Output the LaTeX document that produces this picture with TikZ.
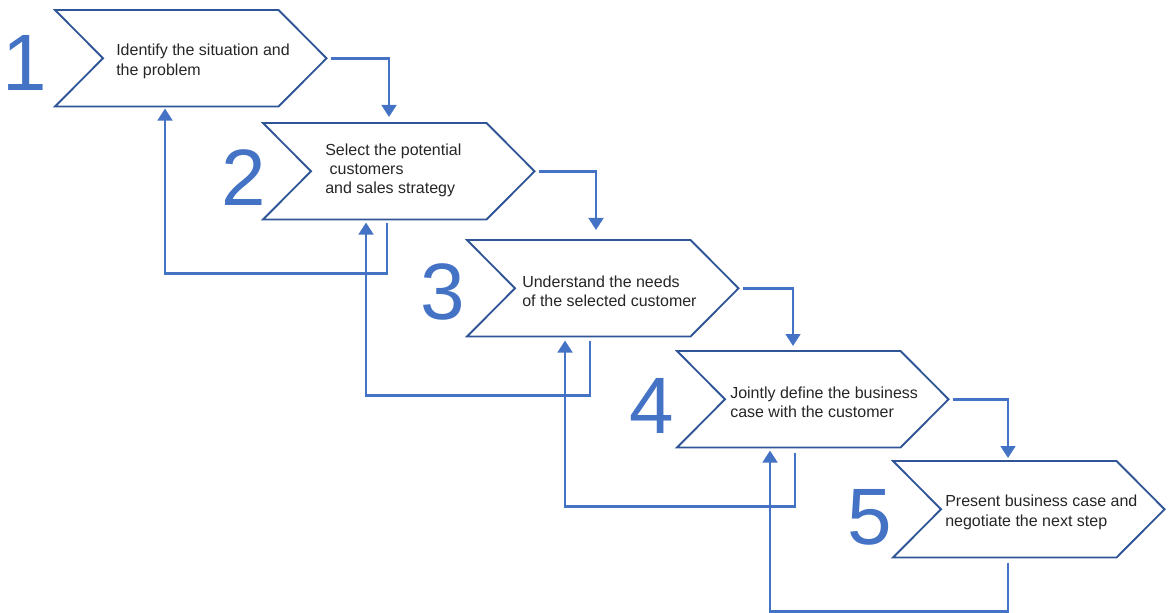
\documentclass[tikz,border=0pt]{standalone}
\usepackage{fontspec}
\setmainfont{Liberation Sans}
\usetikzlibrary{arrows.meta,calc}
\definecolor{chevblue}{RGB}{47,85,151}
\definecolor{linkblue}{RGB}{68,114,196}
\newcommand{\chevron}[1]{%
  \draw[chev] (#1.north west) -- ($(#1.north east)+(-48,0)$) -- (#1.east)
    -- ($(#1.south east)+(-48,0)$) -- (#1.south west) -- ($(#1.west)+(48,0)$) -- cycle;
}

\begin{document}
\begin{tikzpicture}[x=0.75pt, y=-0.75pt, >={Triangle[width=11pt,length=9pt]}]
\tikzset{stepbox/.style={anchor=north west, minimum width=203.25pt, minimum height=72pt, inner sep=0pt},
  chev/.style={draw=chevblue, line width=1.4pt, fill=white, line join=miter},
  steptext/.style={anchor=west, align=left, inner sep=0pt, text=black!85, font=\fontsize{12}{14.5}\selectfont},
  stepnum/.style={text=linkblue, inner sep=0pt, font=\fontsize{60}{60}\selectfont},
  fwd/.style={->, draw=linkblue, line width=2pt},
  back/.style={->, draw=linkblue, line width=2pt}}

\useasboundingbox (0,0) rectangle (1168,613);

% step boxes (pixel grid, y down)
\node[stepbox] (s1) at (55,10) {};
\node[stepbox] (s2) at (263,123) {};
\node[stepbox] (s3) at (467,240) {};
\node[stepbox] (s4) at (677,351) {};
\node[stepbox] (s5) at (893,461) {};

\foreach \i in {1,...,5}{
  \chevron{s\i}
}

% texts
\node[steptext] (t1) at ($(s1.west)+(61,3)$) {Identify the situation and\\the problem};
\node[steptext] (t2) at ($(s2.west)+(62,-1)$) {Select the potential\\\hspace*{0.28em}customers\\and sales strategy};
\node[steptext] (t3) at ($(s3.west)+(55,3)$) {Understand the needs\\of the selected customer};
\node[steptext] (t4) at ($(s4.west)+(53,3)$) {Jointly define the business\\case with the customer};
\node[steptext] (t5) at ($(s5.west)+(52,3)$) {Present business case and\\negotiate the next step};

% step numbers
\node[stepnum] (n1) at (25,63) {1};
\node[stepnum] (n2) at (244,178) {2};
\node[stepnum] (n3) at (443,292) {3};
\node[stepnum] (n4) at (652,406) {4};
\node[stepnum] (n5) at (870,517) {5};

% forward links
\draw[fwd] ($(s1.east)+(4,0)$) -| ($(s2.north west)+(126,-6)$);
\draw[fwd] ($(s2.east)+(4,0)$) -| ($(s3.north west)+(129,-10)$);
\draw[fwd] ($(s3.east)+(4,0)$) -| ($(s4.north west)+(116,-5)$);
\draw[fwd] ($(s4.east)+(4,0)$) -| ($(s5.north west)+(115,-3)$);

% feedback links
\draw[back] ($(s2.south west)+(124,3)$) -- ++(0,51) -| ($(s1.south west)+(110,2)$);
\draw[back] ($(s3.south west)+(123,4)$) -- ++(0,55) -| ($(s2.south west)+(103,3)$);
\draw[back] ($(s4.south west)+(118,5)$) -- ++(0,54) -| ($(s3.south west)+(98,4)$);
\draw[back] ($(s5.south west)+(115,5)$) -- ++(0,49) -| ($(s4.south west)+(93,3)$);
\end{tikzpicture}
\end{document}
